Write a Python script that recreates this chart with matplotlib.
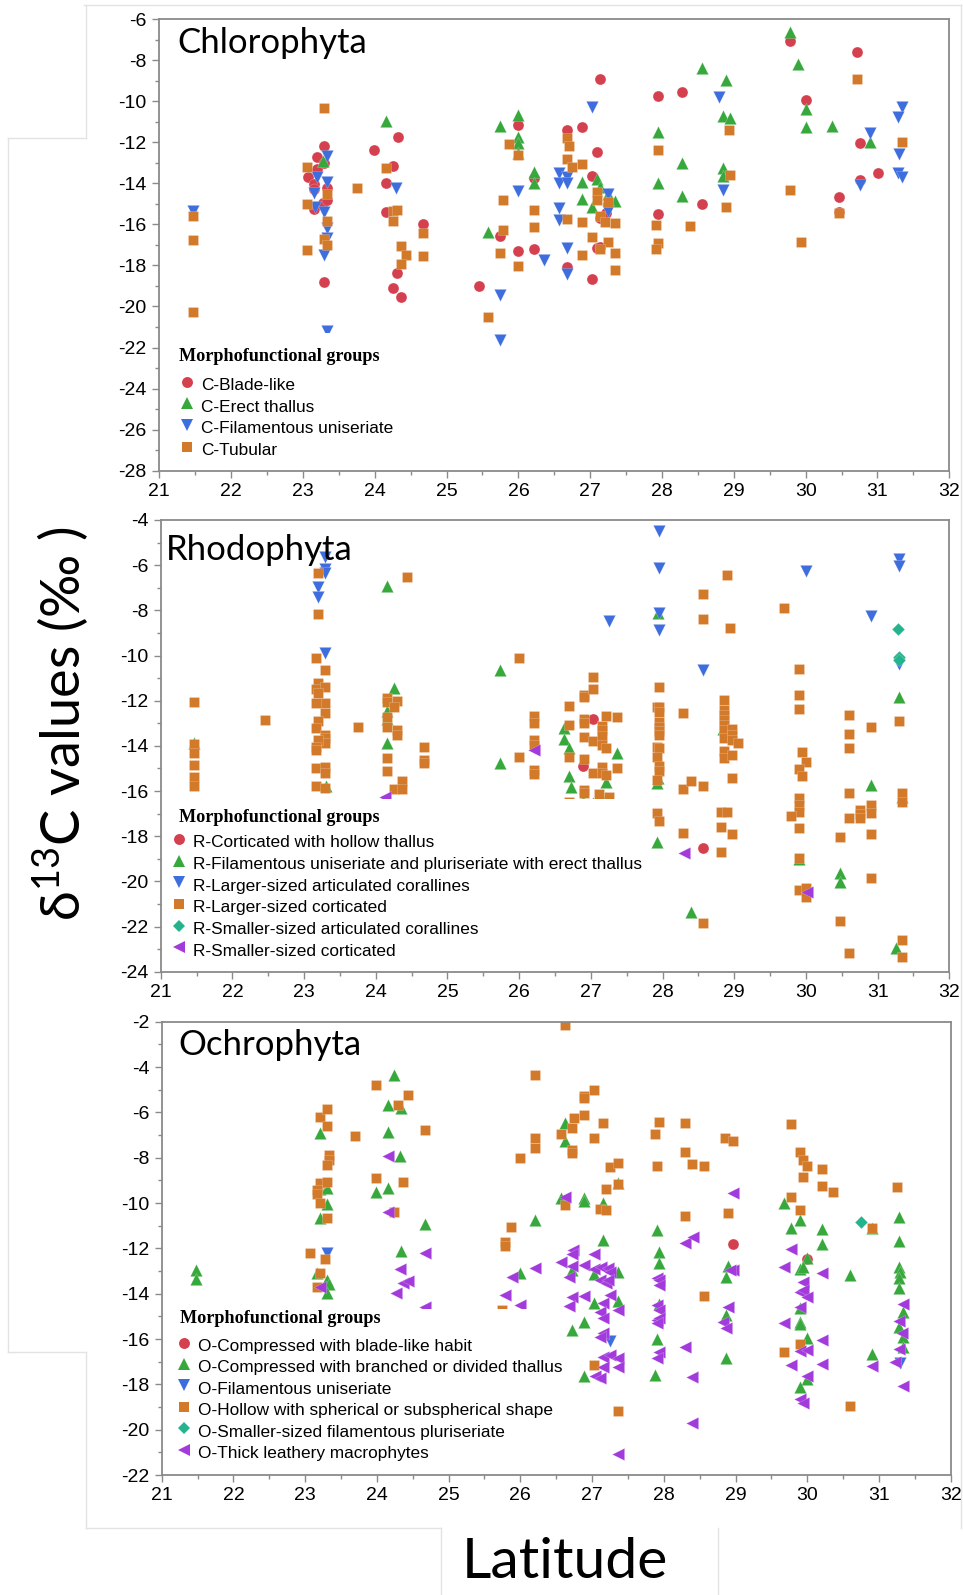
import matplotlib
matplotlib.use("Agg")
import matplotlib.pyplot as plt
from matplotlib.lines import Line2D
from matplotlib.patches import Rectangle
from matplotlib.ticker import MultipleLocator, FuncFormatter

plt.rcParams['mathtext.fontset'] = 'custom'
plt.rcParams['mathtext.rm'] = 'Lato'
plt.rcParams['mathtext.fallback'] = 'stixsans'

# ---------------- data: (latitude, d13C) per morphofunctional group ----------------
C_BLADE = [(23.07, -13.68), (23.2, -12.74), (23.2, -13.32), (23.16, -14.05), (23.16, -14.3),
           (23.16, -15.27), (23.3, -12.17), (23.3, -13.03), (23.33, -14.25), (23.28, -14.98),
           (23.33, -14.8), (23.3, -18.8), (23.99, -12.38), (24.33, -11.73), (24.25, -13.16),
           (24.16, -13.97), (24.16, -15.42), (24.31, -18.39), (24.25, -19.12), (24.36, -19.52),
           (24.67, -16.0), (25.45, -19.0), (25.74, -16.58), (26.0, -11.16), (26.0, -17.3),
           (26.22, -13.76), (26.22, -17.22), (26.67, -11.4), (26.67, -18.1), (26.88, -11.24),
           (27.02, -13.63), (27.1, -12.46), (27.14, -8.92), (27.25, -15.0), (27.14, -15.7),
           (27.1, -17.17), (27.14, -17.09), (27.02, -18.65), (27.22, -15.46), (27.94, -9.77),
           (27.94, -15.5), (28.28, -9.56), (28.56, -15.0), (29.78, -7.06), (30.0, -9.96),
           (30.46, -14.67), (30.46, -15.38), (30.72, -7.62), (30.75, -12.04), (30.75, -13.84),
           (31.01, -13.48)]
C_ERECT = [(23.28, -12.9), (24.16, -10.95), (25.58, -16.39), (25.74, -11.21), (26.0, -10.68),
           (26.0, -11.73), (26.0, -12.02), (26.0, -12.54), (26.22, -13.43), (26.22, -13.97),
           (26.88, -13.92), (26.88, -14.75), (27.02, -15.14), (27.1, -13.81), (27.14, -14.17),
           (27.25, -14.5), (27.35, -14.85), (27.94, -11.49), (27.94, -14.0), (28.28, -13.0),
           (28.28, -14.62), (28.56, -8.4), (28.89, -8.97), (28.85, -10.72), (28.95, -10.84),
           (28.85, -13.24), (28.85, -13.65), (29.78, -6.62), (29.9, -8.21), (30.0, -10.4),
           (30.0, -11.24), (30.36, -11.21), (30.9, -11.97)]
C_FILAM = [(21.47, -15.33), (23.2, -13.68), (23.16, -14.46), (23.17, -15.14), (23.33, -12.67),
           (23.33, -13.92), (23.3, -15.4), (23.33, -16.2), (23.33, -16.65), (23.3, -17.5),
           (23.33, -21.2), (24.3, -14.25), (25.75, -19.44), (25.75, -21.63), (26.0, -14.38),
           (26.36, -17.74), (26.57, -13.52), (26.57, -14.0), (26.67, -13.68), (26.67, -14.0),
           (26.57, -15.22), (26.57, -15.79), (26.67, -17.17), (26.67, -18.42), (27.02, -10.3),
           (27.25, -14.5), (27.25, -15.33), (28.8, -9.81), (28.85, -14.33), (30.75, -14.08),
           (30.9, -11.57), (31.34, -10.27), (31.28, -10.76), (31.3, -12.57), (31.28, -13.52),
           (31.34, -13.71)]
C_TUBULAR = [(21.47, -15.6), (21.47, -16.75), (21.47, -20.25), (23.06, -13.2), (23.06, -15.0),
             (23.06, -17.23), (23.3, -10.35), (23.33, -14.5), (23.33, -15.84), (23.3, -16.7),
             (23.33, -17.0), (23.75, -14.25), (24.16, -13.26), (24.25, -15.33), (24.31, -15.3),
             (24.25, -15.84), (24.36, -17.06), (24.43, -17.48), (24.36, -17.95), (24.67, -16.42),
             (24.67, -17.53), (25.58, -20.5), (25.74, -17.38), (25.78, -14.8), (25.78, -16.28),
             (25.87, -12.1), (26.0, -12.62), (26.0, -18.03), (26.22, -15.3), (26.22, -16.11),
             (26.67, -11.78), (26.71, -12.17), (26.67, -12.83), (26.74, -13.19), (26.88, -13.08),
             (26.67, -15.74), (26.88, -15.9), (27.02, -16.63), (26.88, -17.48), (27.1, -14.41),
             (27.1, -14.82), (27.25, -14.93), (27.14, -15.6), (27.2, -15.87), (27.35, -15.92),
             (27.25, -16.84), (27.14, -17.22), (27.35, -17.38), (27.35, -18.22), (27.94, -12.38),
             (27.91, -16.03), (27.94, -16.93), (27.91, -17.2), (28.39, -16.06), (28.95, -13.6),
             (28.89, -15.17), (28.93, -11.4), (29.78, -14.33), (29.94, -16.84), (30.46, -15.46),
             (30.72, -8.9), (31.34, -12.0)]

R_HOLLOW = [(27.03, -12.83), (26.89, -14.89), (28.56, -18.51)]
R_FILAM = [(21.47, -13.89), (23.31, -15.78), (24.15, -6.91), (24.25, -11.45), (24.15, -12.44),
           (24.15, -12.8), (24.15, -13.89), (25.73, -10.64), (25.73, -14.77), (26.62, -13.22),
           (26.62, -13.71), (26.69, -14.08), (26.69, -15.33), (26.72, -15.84), (26.89, -16.45),
           (27.03, -16.55), (27.21, -15.58), (27.21, -16.32), (27.36, -14.3), (27.92, -18.24),
           (27.92, -15.66), (27.94, -15.44), (27.94, -8.13), (28.4, -21.37), (28.84, -13.27),
           (29.91, -19.02), (30.47, -19.64), (30.47, -20.01), (30.91, -15.73), (31.3, -11.82),
           (31.26, -22.96), (31.34, -16.25)]
R_LARGE_ARTIC = [(23.29, -5.62), (23.29, -6.18), (23.29, -6.33), (23.2, -6.95), (23.2, -7.42),
                 (23.29, -9.9), (27.95, -4.49), (27.95, -6.14), (27.95, -8.13), (27.95, -8.87),
                 (27.25, -8.46), (28.56, -10.64), (30.0, -6.24), (30.91, -8.25), (31.3, -5.73),
                 (31.3, -6.04), (31.3, -10.38)]
R_LARGE_CORT = [(21.47, -12.06), (21.47, -13.9), (21.47, -14.33), (21.47, -14.85), (21.47, -15.36),
                (21.47, -15.76), (22.46, -12.84), (23.2, -6.33), (23.2, -8.18), (23.17, -10.1),
                (23.29, -10.64), (23.2, -11.2), (23.17, -11.5), (23.29, -11.38), (23.2, -11.67),
                (23.29, -12.09), (23.17, -12.12), (23.29, -12.56), (23.2, -12.88), (23.17, -13.22),
                (23.29, -13.52), (23.29, -13.67), (23.29, -13.89), (23.2, -13.74), (23.17, -14.03),
                (23.17, -14.18), (23.17, -15.0), (23.29, -14.92), (23.29, -15.2), (23.17, -15.78),
                (23.29, -15.88), (23.75, -13.15), (24.15, -11.9), (24.15, -12.04), (24.3, -12.01),
                (24.25, -12.26), (24.15, -12.74), (24.15, -13.15), (24.3, -13.3), (24.3, -13.52),
                (24.15, -14.52), (24.15, -15.1), (24.36, -15.54), (24.25, -15.92), (24.36, -15.92),
                (24.43, -6.51), (24.67, -14.06), (24.67, -14.63), (24.67, -14.77), (26.0, -10.12),
                (26.0, -14.48), (26.21, -12.68), (26.21, -13.0), (26.21, -13.74), (26.21, -13.96),
                (26.21, -15.07), (26.21, -15.26), (26.69, -12.23), (26.69, -13.08), (26.69, -14.5),
                (26.69, -16.5), (26.9, -11.75), (26.9, -11.85), (26.9, -12.83), (26.9, -12.97),
                (26.9, -13.62), (26.9, -14.6), (26.9, -15.95), (26.9, -16.1), (27.03, -10.94),
                (27.03, -11.5), (27.03, -13.77), (27.03, -15.22), (27.15, -13.12), (27.15, -13.3),
                (27.15, -13.56), (27.15, -13.96), (27.15, -14.95), (27.15, -15.22), (27.12, -16.13),
                (27.21, -12.68), (27.21, -14.11), (27.21, -15.29), (27.25, -16.25), (27.36, -12.74),
                (27.36, -15.0), (27.95, -11.41), (27.92, -12.26), (27.95, -12.26), (27.95, -12.49),
                (27.95, -12.93), (27.95, -13.15), (27.95, -13.33), (27.95, -13.52), (27.92, -14.04),
                (27.95, -14.11), (27.92, -14.5), (27.95, -14.89), (27.95, -15.1), (27.92, -15.51),
                (27.92, -16.96), (27.95, -17.31), (28.29, -12.56), (28.29, -15.92), (28.4, -15.54),
                (28.29, -17.84), (28.56, -7.28), (28.56, -8.37), (28.56, -15.76), (28.56, -21.83),
                (28.86, -11.97), (28.86, -12.41), (28.86, -12.63), (28.86, -12.85), (28.86, -13.08),
                (28.86, -13.3), (28.86, -13.67), (28.97, -13.27), (28.97, -13.52), (28.97, -13.74),
                (29.05, -13.86), (28.86, -14.21), (28.86, -14.55), (28.97, -14.4), (28.97, -15.41),
                (28.9, -6.44), (28.94, -8.78), (28.82, -16.94), (28.9, -16.91), (28.82, -17.6),
                (28.97, -17.92), (28.82, -18.68), (29.69, -7.91), (29.91, -10.6), (29.91, -11.75),
                (29.91, -12.38), (29.95, -14.26), (30.0, -14.7), (29.91, -15.02), (29.95, -15.33),
                (29.91, -16.32), (29.91, -16.62), (29.91, -16.91), (29.79, -17.1), (29.91, -17.65),
                (29.9, -18.98), (29.9, -20.38), (30.0, -20.3), (30.0, -20.68), (30.47, -18.02),
                (30.47, -21.74), (30.6, -12.63), (30.6, -13.47), (30.6, -14.09), (30.6, -16.07),
                (30.6, -17.18), (30.6, -23.18), (30.76, -16.84), (30.76, -17.03), (30.76, -17.21),
                (30.91, -13.15), (30.91, -16.62), (30.91, -16.99), (30.91, -17.9), (30.91, -19.86),
                (31.3, -12.9), (31.34, -16.1), (31.34, -16.47), (31.34, -22.6), (31.34, -23.33)]
R_SMALL_ARTIC = [(31.29, -8.84), (31.3, -10.05), (31.3, -10.2)]
R_SMALL_CORT = [(24.13, -16.25), (26.21, -14.18), (28.3, -18.76), (30.01, -20.46)]

O_BLADE = [(28.96, -11.81), (30.0, -12.49)]
O_BRANCHED = [(21.48, -12.96), (21.48, -13.37), (23.2, -6.93), (23.2, -9.4), (23.3, -9.35),
              (23.3, -10.04), (23.2, -10.65), (23.16, -13.1), (23.3, -13.4), (23.33, -13.57),
              (23.3, -13.96), (23.99, -9.53), (24.15, -5.68), (24.15, -6.88), (24.15, -9.32),
              (24.24, -4.35), (24.33, -5.82), (24.32, -7.91), (24.33, -12.1), (24.67, -10.93),
              (26.0, -13.07), (26.21, -10.75), (26.56, -9.77), (26.62, -6.46), (26.62, -7.25),
              (26.89, -9.79), (26.89, -9.91), (27.15, -10.01), (27.36, -9.13), (27.15, -11.63),
              (26.72, -12.96), (27.03, -13.13), (27.36, -13.03), (27.03, -14.43), (27.36, -14.32),
              (26.89, -15.26), (26.72, -15.6), (26.89, -17.63), (27.91, -11.19), (27.94, -12.15),
              (27.94, -12.66), (27.94, -14.46), (27.91, -16.01), (27.88, -17.59), (28.9, -12.78),
              (28.87, -13.28), (28.87, -14.94), (28.87, -16.85), (29.68, -9.99), (29.78, -11.09),
              (29.9, -10.75), (30.0, -12.44), (29.9, -12.93), (29.94, -12.81), (29.9, -14.65),
              (29.9, -15.24), (29.9, -15.35), (30.0, -15.97), (30.0, -17.78), (29.9, -18.13),
              (30.2, -11.15), (30.2, -11.81), (30.59, -13.19), (30.9, -11.12), (30.9, -16.68),
              (31.28, -10.63), (31.28, -11.66), (31.28, -12.81), (31.29, -13.03), (31.28, -13.32),
              (31.28, -13.76), (31.34, -14.82), (31.28, -15.49), (31.34, -15.9), (31.34, -16.37)]
O_FILAM = [(23.3, -12.22), (27.25, -16.07), (31.3, -17.07)]
O_HOLLOW = [(23.07, -12.19), (23.2, -6.19), (23.3, -5.87), (23.3, -6.6), (23.33, -7.88),
            (23.33, -8.1), (23.3, -8.32), (23.2, -9.1), (23.3, -9.06), (23.16, -9.43),
            (23.16, -9.6), (23.2, -10.01), (23.3, -10.65), (23.28, -12.49), (23.2, -13.1),
            (23.16, -13.72), (23.69, -7.04), (23.99, -4.79), (23.99, -8.91), (24.29, -5.68),
            (24.36, -9.06), (24.24, -10.38), (24.43, -5.24), (24.67, -6.76), (25.87, -11.07),
            (25.78, -11.74), (25.78, -11.9), (25.74, -14.72), (26.0, -8.0), (26.21, -4.35),
            (26.21, -7.12), (26.21, -7.59), (26.56, -6.96), (26.62, -2.15), (26.89, -5.28),
            (26.89, -5.38), (27.03, -5.01), (26.89, -6.12), (26.75, -6.26), (26.72, -6.71),
            (27.15, -6.49), (27.03, -7.12), (26.72, -7.66), (26.72, -7.81), (27.25, -8.4),
            (27.36, -8.25), (27.36, -9.16), (27.2, -9.38), (26.62, -10.09), (27.11, -10.26),
            (27.2, -10.31), (27.03, -17.15), (27.36, -19.16), (27.94, -6.44), (27.88, -6.96),
            (27.91, -8.35), (28.29, -6.49), (28.29, -7.76), (28.4, -8.28), (28.56, -8.35),
            (28.29, -10.57), (28.56, -14.09), (28.85, -7.15), (28.96, -7.26), (28.9, -10.43),
            (29.78, -6.53), (29.78, -9.72), (29.68, -16.59), (29.9, -7.76), (29.94, -8.1),
            (30.0, -8.35), (29.94, -8.84), (29.9, -10.31), (29.9, -16.22), (30.2, -8.5),
            (30.2, -9.24), (30.36, -9.53), (30.59, -18.94), (30.9, -11.09), (31.25, -9.28)]
O_SMALL_FILAM = [(30.75, -10.82)]
O_LEATHERY = [(23.21, -13.72), (24.15, -7.91), (24.15, -10.41), (24.32, -12.91), (24.26, -13.96),
              (24.37, -13.51), (24.44, -13.44), (24.67, -12.22), (24.67, -14.6), (25.88, -13.28),
              (25.79, -14.06), (26.0, -14.5), (26.21, -12.88), (26.56, -12.59), (26.62, -9.75),
              (26.74, -12.07), (26.72, -12.26), (26.72, -12.78), (26.68, -13.28), (26.89, -12.74),
              (27.03, -12.25), (27.03, -12.93), (27.13, -12.81), (27.22, -12.88), (27.25, -13.03),
              (27.11, -13.4), (27.19, -13.54), (27.22, -13.4), (26.72, -14.13), (26.89, -14.1),
              (26.68, -14.54), (27.15, -14.43), (27.25, -14.06), (27.11, -14.79), (27.36, -14.72),
              (27.15, -15.09), (27.15, -15.75), (27.11, -15.93), (27.15, -16.78), (27.25, -16.71),
              (27.36, -16.85), (27.15, -17.25), (27.36, -17.22), (27.04, -17.63), (27.11, -17.74),
              (27.36, -21.07), (27.9, -13.32), (27.94, -13.4), (27.94, -13.62), (27.9, -14.5),
              (27.94, -14.72), (27.9, -15.16), (27.94, -15.09), (27.9, -15.31), (27.94, -16.56),
              (27.9, -16.85), (28.29, -11.75), (28.41, -11.49), (28.29, -16.34), (28.4, -17.69),
              (28.4, -19.69), (28.96, -9.57), (28.96, -12.96), (28.92, -12.96), (28.9, -14.57),
              (28.83, -15.24), (28.87, -15.5), (29.78, -12.01), (29.68, -12.81), (29.68, -15.31),
              (29.78, -17.15), (29.94, -13.47), (29.9, -13.91), (29.94, -13.84), (30.0, -14.16),
              (29.9, -14.6), (29.9, -16.51), (30.0, -16.49), (30.0, -17.63), (29.9, -18.66),
              (29.94, -18.81), (30.2, -13.07), (30.2, -16.04), (30.2, -17.1), (30.9, -17.19),
              (31.34, -14.47), (31.28, -15.21), (31.32, -15.75), (31.28, -16.46), (31.23, -17.0),
              (31.34, -18.07)]

C_LABELS = ["C-Blade-like", "C-Erect thallus", "C-Filamentous uniseriate", "C-Tubular"]
R_LABELS = ["R-Corticated with hollow thallus",
            "R-Filamentous uniseriate and pluriseriate with erect thallus",
            "R-Larger-sized articulated corallines", "R-Larger-sized corticated",
            "R-Smaller-sized articulated corallines", "R-Smaller-sized corticated"]
O_LABELS = ["O-Compressed with blade-like habit",
            "O-Compressed with branched or divided thallus", "O-Filamentous uniseriate",
            "O-Hollow with spherical or subspherical shape",
            "O-Smaller-sized filamentous pluriseriate", "O-Thick leathery macrophytes"]
PANEL_TITLES = ["Chlorophyta", "Rhodophyta", "Ochrophyta"]
Y_LIMITS = [(-28, -6), (-24, -4), (-22, -2)]
X_TICKS = list(range(21, 33))

# ---------------- styles ----------------
RED, GREEN, BLUE = '#D5404F', '#37A83C', '#3E6EDD'
ORANGE, TEAL, PURPLE = '#D2792A', '#24B38D', '#A33ADC'
STYLE = {
    'circle': ('o', 62), 'up': ('^', 78), 'down': ('v', 78),
    'square': ('s', 48), 'diamond': ('D', 42), 'left': ('<', 78),
}
PANELS = [
    ([C_BLADE, C_ERECT, C_FILAM, C_TUBULAR], C_LABELS,
     [(RED, 'circle'), (GREEN, 'up'), (BLUE, 'down'), (ORANGE, 'square')]),
    ([R_HOLLOW, R_FILAM, R_LARGE_ARTIC, R_LARGE_CORT, R_SMALL_ARTIC, R_SMALL_CORT], R_LABELS,
     [(RED, 'circle'), (GREEN, 'up'), (BLUE, 'down'), (ORANGE, 'square'), (TEAL, 'diamond'),
      (PURPLE, 'left')]),
    ([O_BLADE, O_BRANCHED, O_FILAM, O_HOLLOW, O_SMALL_FILAM, O_LEATHERY], O_LABELS,
     [(RED, 'circle'), (GREEN, 'up'), (BLUE, 'down'), (ORANGE, 'square'), (TEAL, 'diamond'),
      (PURPLE, 'left')]),
]

W, H = 963, 1595
fig = plt.figure(figsize=(W / 100, H / 100), dpi=100)
fig.patch.set_facecolor('white')


def fx(x):
    return x / W


def fy(y):
    return 1 - y / H


# axes boxes in pixels: left, top, right, bottom
AX_BOXES = [(159.3, 19, 949.3, 470.7), (160.7, 520, 949.3, 971.7), (161.7, 1021.7, 950.7, 1475)]
# legend layout in pixels: white box (l, t, r, b), title (x, baseline), marker x, text x, first baseline, step
LEGENDS = [
    ((161, 333, 395, 469), (179, 360.7), 186.7, 201, 390, 21.7),
    ((162, 799, 645, 970), (179.3, 821.7), 179, 192.7, 847.3, 21.7),
    ((163, 1309, 565, 1473.5), (180, 1323.3), 184.3, 198.3, 1351, 21.47),
]
TITLE_POS = [(177.7, 53), (166, 560), (178.3, 1055)]

SPINE = '#8a8a8a'
for i, (groups, labels, styles) in enumerate(PANELS):
    l, t, r, b = AX_BOXES[i]
    ax = fig.add_axes([fx(l), fy(b), (r - l) / W, (b - t) / H])
    for pts, (color, key) in zip(groups, styles):
        marker, size = STYLE[key]
        xs = [p[0] for p in pts]
        ys = [p[1] for p in pts]
        ax.scatter(xs, ys, s=size, marker=marker, c=color, edgecolors=(1, 1, 1, 0.35),
                   linewidths=0.4, zorder=2)
    ax.set_xlim(21, 32)
    ax.set_ylim(*Y_LIMITS[i])
    ax.set_xticks(X_TICKS)
    ax.xaxis.set_minor_locator(MultipleLocator(0.5))
    ax.yaxis.set_major_locator(MultipleLocator(2))
    ax.yaxis.set_minor_locator(MultipleLocator(1))
    ax.yaxis.set_major_formatter(FuncFormatter(lambda v, p: f"{int(round(v))}"))
    ax.tick_params(which='major', direction='out', length=5, width=1, color=SPINE,
                   labelsize=14, pad=4)
    ax.tick_params(which='minor', direction='out', length=3, width=1, color=SPINE)
    for lab in ax.get_xticklabels() + ax.get_yticklabels():
        lab.set_fontfamily('Liberation Sans')
    for sp in ax.spines.values():
        sp.set_color(SPINE)
        sp.set_linewidth(1.3)

    # legend
    (bl, bt, br, bb), (tx, ty), mx, lx, y0, step = LEGENDS[i]
    ax.add_patch(Rectangle((fx(bl), fy(bb)), (br - bl) / W, (bb - bt) / H,
                           transform=fig.transFigure, facecolor='white', edgecolor='none',
                           zorder=3))
    fig.text(fx(tx), fy(ty), "Morphofunctional groups", family='Liberation Serif',
             weight='bold', fontsize=13.1, va='baseline', ha='left', zorder=6)
    for k, (lab, (color, key)) in enumerate(zip(labels, styles)):
        yb = y0 + k * step
        marker, size = STYLE[key]
        fig.add_artist(Line2D([fx(mx)], [fy(yb - 8.5)], marker=marker, markersize=size ** 0.5,
                              color=color, linestyle='none', transform=fig.transFigure,
                              markeredgewidth=0, zorder=6))
        fig.text(fx(lx), fy(yb), lab, family='Liberation Sans', fontsize=12.4,
                 va='baseline', ha='left', zorder=6)

    fig.text(fx(TITLE_POS[i][0]), fy(TITLE_POS[i][1]), PANEL_TITLES[i], family='Lato',
             fontsize=25, va='baseline', ha='left', zorder=6)

# axis titles
fig.text(fx(81), fy(724), r'$\mathrm{\delta^{13}}$C values (‰ )', family='Lato', fontsize=39,
         rotation=90, rotation_mode='anchor', ha='center', va='baseline')
fig.text(fx(565), fy(1578), 'Latitude', family='Lato', fontsize=41, ha='center', va='baseline')

# faint panel borders around the assembled figure
FRAME = '#e3e3e3'
BORDER_SEGMENTS = [
    ((84, 5), (961, 5)), ((86, 5), (86, 138)), ((8, 138), (86, 138)), ((8, 138), (8, 1352)),
    ((8, 1352), (86, 1352)), ((86, 1352), (86, 1528)), ((86, 1528), (441, 1528)),
    ((441, 1528), (441, 1595)), ((718, 1528), (718, 1595)), ((961, 5), (961, 1528)),
]
for (x0, y0_), (x1, y1) in BORDER_SEGMENTS:
    fig.add_artist(Line2D([fx(x0), fx(x1)], [fy(y0_), fy(y1)], color=FRAME, lw=1,
                          transform=fig.transFigure, zorder=0))

fig.savefig('out.png', dpi=100, facecolor='white')
